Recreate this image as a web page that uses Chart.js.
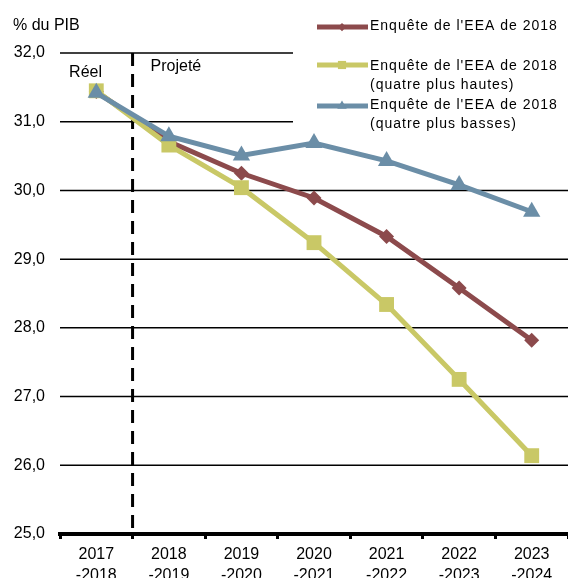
<!DOCTYPE html>
<html>
<head>
<meta charset="utf-8">
<script src="https://cdn.jsdelivr.net/npm/chart.js@4/dist/chart.umd.min.js"></script>
<style>
  html, body { margin: 0; padding: 0; background: #fff; }
  #wrap { width: 568px; height: 578px; }
</style>
</head>
<body>
<div id="wrap"><canvas id="chart" width="568" height="578"></canvas></div>
<script>
// fiscal years, two-line labels
const years = [
  ['2017', '-2018'], ['2018', '-2019'], ['2019', '-2020'], ['2020', '-2021'],
  ['2021', '-2022'], ['2022', '-2023'], ['2023', '-2024']
];
// % du PIB
const eeaMain = [31.44, 30.71, 30.25, 29.89, 29.33, 28.58, 27.82];
const eeaHigh = [31.45, 30.66, 30.04, 29.24, 28.34, 27.25, 26.14];
const eeaLow  = [31.42, 30.79, 30.51, 30.69, 30.43, 30.08, 29.69];
const yTicks = [25, 26, 27, 28, 29, 30, 31, 32];

const seriesNames = [
  ["Enquête de l'EEA de 2018"],
  ["Enquête de l'EEA de 2018", "(quatre plus hautes)"],
  ["Enquête de l'EEA de 2018", "(quatre plus basses)"]
];

const RED = '#8c4a4c';
const YELLOW = '#c9c866';
const BLUE = '#6b8ea7';
const FONT = '"Liberation Sans", Arial, sans-serif';

Chart.defaults.color = '#000';
Chart.defaults.font.family = FONT;

const decor = {
  id: 'decor',
  beforeDatasetsDraw(chart) {
    const { ctx, chartArea, scales: { x, y } } = chart;
    ctx.save();
    // horizontal grid; the top two stop where the legend begins
    ctx.strokeStyle = '#000';
    ctx.lineWidth = 1.5;
    yTicks.forEach(v => {
      if (v === yTicks[0]) return;
      const py = y.getPixelForValue(v);
      const right = v >= 31 ? 293 : chartArea.right;
      ctx.beginPath();
      ctx.moveTo(chartArea.left, py);
      ctx.lineTo(right, py);
      ctx.stroke();
    });
    // actual / projected divider
    const dx = (x.getPixelForValue(0) + x.getPixelForValue(1)) / 2;
    ctx.lineWidth = 3;
    ctx.setLineDash([13, 8]);
    ctx.beginPath();
    ctx.moveTo(dx, chartArea.top);
    ctx.lineTo(dx, chartArea.bottom);
    ctx.stroke();
    ctx.setLineDash([]);

    ctx.fillStyle = '#000';
    ctx.font = '16px ' + FONT;
    ctx.textBaseline = 'middle';
    ctx.textAlign = 'center';
    ctx.fillText('Réel', dx - 47, chartArea.top + 20);
    ctx.textAlign = 'left';
    ctx.fillText('Projeté', dx + 18, chartArea.top + 14);
    ctx.fillText('% du PIB', 13, 26);
    ctx.restore();
  },
  afterDraw(chart) {
    const { ctx } = chart;
    const rows = [
      { ds: 0, lineY: 27, textY: [26] },
      { ds: 1, lineY: 65, textY: [66, 85] },
      { ds: 2, lineY: 106, textY: [105, 124] }
    ];
    ctx.save();
    rows.forEach(r => {
      const d = chart.data.datasets[r.ds];
      ctx.strokeStyle = d.borderColor;
      ctx.lineWidth = 5;
      ctx.beginPath();
      ctx.moveTo(317, r.lineY);
      ctx.lineTo(368, r.lineY);
      ctx.stroke();
      ctx.fillStyle = d.borderColor;
      Chart.helpers.drawPoint(ctx, {
        pointStyle: d.pointStyle, rotation: 0,
        radius: d.pointRadius * 0.55, borderWidth: 0
      }, 342, r.lineY);
      ctx.fillStyle = '#000';
      ctx.font = '14px ' + FONT;
      ctx.letterSpacing = '1px';
      ctx.textAlign = 'left';
      ctx.textBaseline = 'middle';
      seriesNames[r.ds].forEach((t, i) => ctx.fillText(t, 370, r.textY[i]));
    });
    ctx.restore();
  }
};

new Chart(document.getElementById('chart'), {
  type: 'line',
  data: {
    labels: years,
    datasets: [
      {
        data: eeaMain, borderColor: RED, backgroundColor: RED,
        pointStyle: 'rectRot', pointRadius: 7.5, order: 2
      },
      {
        data: eeaHigh, borderColor: YELLOW, backgroundColor: YELLOW,
        pointStyle: 'rect', pointRadius: 10.5, order: 1
      },
      {
        data: eeaLow, borderColor: BLUE, backgroundColor: BLUE,
        pointStyle: 'triangle', pointRadius: 10, order: 0
      }
    ].map(d => Object.assign(d, {
      borderWidth: 5, tension: 0, pointBorderWidth: 0,
      pointHoverRadius: d.pointRadius, clip: false
    }))
  },
  options: {
    responsive: false,
    animation: false,
    events: [],
    layout: { autoPadding: false, padding: { top: 53, right: 0, left: 0, bottom: 0 } },
    plugins: { legend: { display: false }, tooltip: { enabled: false } },
    scales: {
      x: {
        offset: true,
        grid: {
          offset: true, drawOnChartArea: false, drawTicks: true,
          tickLength: 5, tickWidth: 3, tickColor: '#000'
        },
        border: { display: true, color: '#000', width: 4 },
        ticks: {
          font: { size: 16, lineHeight: 1.3 }, padding: 5,
          maxRotation: 0, autoSkip: false
        },
        afterFit(s) { s.height = 44; }
      },
      y: {
        min: 25, max: 32,
        grid: { display: false, drawTicks: false },
        border: { display: false },
        ticks: {
          stepSize: 1, padding: 15, font: { size: 16 },
          callback: v => v.toFixed(1).replace('.', ',')
        },
        afterFit(s) { s.width = 60; }
      }
    }
  },
  plugins: [decor]
});
</script>
</body>
</html>
